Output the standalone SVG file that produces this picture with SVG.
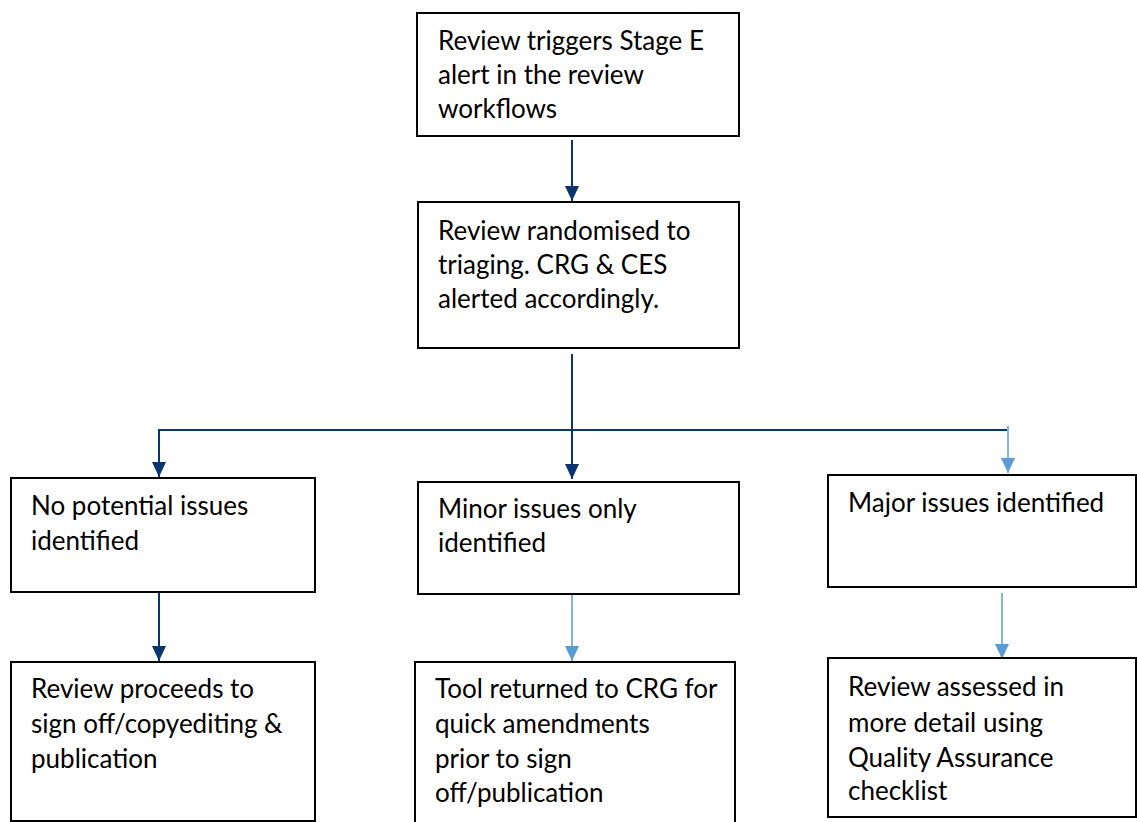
<svg xmlns="http://www.w3.org/2000/svg" width="1137" height="822" viewBox="0 0 1137 822">
<style>
.box{fill:#fff;stroke:#000;stroke-width:2}
.t{font-family:Lato,"Source Sans Pro","Open Sans",sans-serif;font-size:26px;fill:#000}
.dk{stroke:#0B3570;stroke-width:2;fill:none}
.lt{stroke:#5B9BD5;stroke-width:1.5;fill:none}
</style>
<defs>
<marker id="ad" markerUnits="userSpaceOnUse" markerWidth="16" markerHeight="16" refX="15" refY="8" orient="auto"><path d="M0,1 L15,8 L0,15 Z" fill="#0B3570"/></marker>
<marker id="al" markerUnits="userSpaceOnUse" markerWidth="16" markerHeight="16" refX="15" refY="8" orient="auto"><path d="M0,1 L15,8 L0,15 Z" fill="#5B9BD5"/></marker>
</defs>
<rect width="1137" height="822" fill="#fff"/>
<g id="connectors">
<line class="dk" x1="572" y1="140" x2="572" y2="201" marker-end="url(#ad)"/>
<line class="dk" x1="572" y1="354" x2="572" y2="479" marker-end="url(#ad)"/>
<polyline class="dk" points="1007,430 159,430 159,477" marker-end="url(#ad)"/>
<line class="lt" x1="1008" y1="426" x2="1008" y2="473" marker-end="url(#al)"/>
<line class="dk" x1="159" y1="593" x2="159" y2="661" marker-end="url(#ad)"/>
<line class="lt" x1="572" y1="594" x2="572" y2="661" marker-end="url(#al)"/>
<line class="lt" x1="1002" y1="593" x2="1002" y2="659" marker-end="url(#al)"/>
</g>
<g id="n1"><rect class="box" x="417" y="13" width="322" height="123"/>
<text class="t" x="438"><tspan x="438" y="50">Review triggers Stage E</tspan><tspan x="438" y="84">alert in the review</tspan><tspan x="438" y="118">workflows</tspan></text></g>
<g id="n2"><rect class="box" x="418" y="202" width="321" height="146"/>
<text class="t"><tspan x="438" y="240">Review randomised to</tspan><tspan x="438" y="274">triaging. CRG &amp; CES</tspan><tspan x="438" y="308">alerted accordingly.</tspan></text></g>
<g id="n3"><rect class="box" x="11" y="478" width="304" height="114"/>
<text class="t"><tspan x="31" y="515">No potential issues</tspan><tspan x="31" y="550">identified</tspan></text></g>
<g id="n4"><rect class="box" x="418" y="482" width="321" height="112"/>
<text class="t"><tspan x="438" y="518">Minor issues only</tspan><tspan x="438" y="552">identified</tspan></text></g>
<g id="n5"><rect class="box" x="828" y="475" width="308" height="112"/>
<text class="t"><tspan x="848" y="512">Major issues identified</tspan></text></g>
<g id="n6"><rect class="box" x="11" y="662" width="304" height="159"/>
<text class="t"><tspan x="31" y="698">Review proceeds to</tspan><tspan x="31" y="733">sign off/copyediting &amp;</tspan><tspan x="31" y="768">publication</tspan></text></g>
<g id="n7"><rect class="box" x="415" y="662" width="320" height="162"/>
<text class="t"><tspan x="435" y="698">Tool returned to CRG for</tspan><tspan x="435" y="733">quick amendments</tspan><tspan x="435" y="768">prior to sign</tspan><tspan x="435" y="802">off/publication</tspan></text></g>
<g id="n8"><rect class="box" x="828" y="658" width="308" height="159"/>
<text class="t"><tspan x="848" y="696">Review assessed in</tspan><tspan x="848" y="732">more detail using</tspan><tspan x="848" y="767">Quality Assurance</tspan><tspan x="848" y="800">checklist</tspan></text></g>
</svg>
